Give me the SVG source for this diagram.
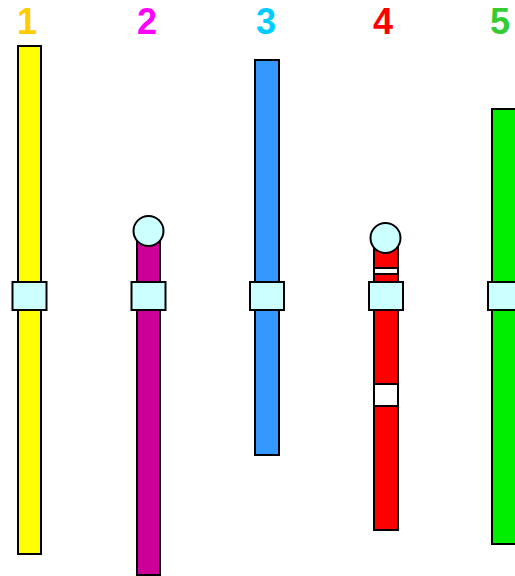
<svg xmlns="http://www.w3.org/2000/svg" width="515" height="576" viewBox="0 0 515 576">
<style>
.bar{stroke:#000;stroke-width:2}
.sq{fill:#ccffff;stroke:#000;stroke-width:2}
.band{fill:#fff;stroke:#000;stroke-width:2}
.lbl{font-family:"Liberation Sans",Arial,sans-serif;font-weight:bold;font-size:36px;text-anchor:middle}
</style>
<rect width="515" height="576" fill="#fff"/>
<g id="node1">
<text class="lbl" x="27" y="34" fill="#ffcc00">1</text>
<rect class="bar" x="18" y="46" width="23" height="508" fill="#ffff00"/>
<rect class="sq" x="12.5" y="282" width="34" height="28"/>
</g>
<g id="node2">
<text class="lbl" x="147" y="34" fill="#ff00ff">2</text>
<rect class="bar" x="137" y="238" width="23" height="337" fill="#cc0099"/>
<circle class="sq" cx="148.5" cy="231" r="15"/>
<rect class="sq" x="131.5" y="282" width="34" height="28"/>
</g>
<g id="node3">
<text class="lbl" x="266" y="34" fill="#00ccff">3</text>
<rect class="bar" x="255" y="60" width="24" height="395" fill="#3399ff"/>
<rect class="sq" x="250" y="282" width="34" height="28"/>
</g>
<g id="node4">
<text class="lbl" x="383" y="34" fill="#ff0000">4</text>
<rect class="bar" x="374" y="245" width="24" height="285" fill="#ff0000"/>
<rect class="band" x="374" y="268" width="24" height="6"/>
<rect class="band" x="374" y="384" width="24" height="22"/>
<circle class="sq" cx="385.5" cy="238" r="15"/>
<rect class="sq" x="369" y="282" width="34" height="28"/>
</g>
<g id="node5">
<text class="lbl" x="500" y="34" fill="#33cc33">5</text>
<rect class="bar" x="492" y="109" width="24" height="435" fill="#00ee00"/>
<rect class="sq" x="488" y="282" width="34" height="28"/>
</g>
<g id="connectors"></g>
</svg>
